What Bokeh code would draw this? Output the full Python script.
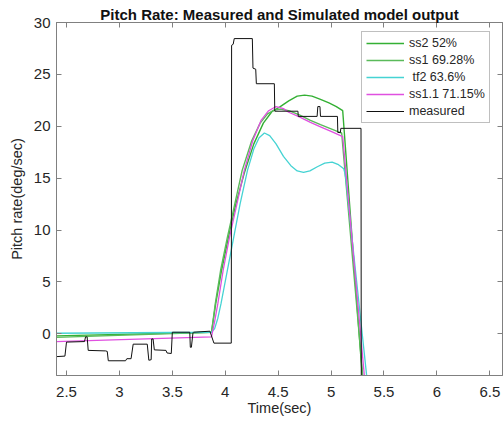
from bokeh.plotting import figure
from bokeh.models import Range1d, LinearAxis, FixedTicker, Legend, LegendItem
from bokeh.embed import file_html
from bokeh.resources import INLINE

# ---------------- data ----------------
x_ticks = [2.5, 3, 3.5, 4, 4.5, 5, 5.5, 6, 6.5]
x_tick_labels = ["2.5", "3", "3.5", "4", "4.5", "5", "5.5", "6", "6.5"]
y_ticks = [0, 5, 10, 15, 20, 25, 30]
y_tick_labels = ["0", "5", "10", "15", "20", "25", "30"]

title_text = "Pitch Rate: Measured and Simulated model output"
x_label = "Time(sec)"
y_label = "Pitch rate(deg/sec)"

labels = ["ss2 52%", "ss1 69.28%", " tf2 63.6%", "ss1.1 71.15%", "measured"]

ss2_t = [2.40, 3.87, 3.91, 3.965, 4.03, 4.10, 4.18, 4.27, 4.36, 4.44, 4.52, 4.60, 4.68,
         4.75, 4.82, 4.90, 4.98, 5.05, 5.11, 5.295, 5.32]
ss2_y = [-0.2, 0.15, 2.9, 6.1, 9.3, 12.5, 15.5, 18.3, 20.3, 21.4, 21.9, 22.45, 22.9,
         23.0, 22.9, 22.6, 22.25, 21.9, 21.5, -4.1, -7.5]

ss1_t = [2.40, 3.87, 3.906, 3.956, 4.02, 4.09, 4.16, 4.25, 4.33, 4.40, 4.46, 4.52, 4.60,
         4.70, 4.80, 4.90, 5.00, 5.07, 5.10, 5.30, 5.33]
ss1_y = [-0.35, 0.15, 2.9, 6.1, 9.3, 12.5, 15.75, 18.6, 20.3, 21.2, 21.55, 21.65, 21.5,
         21.1, 20.6, 20.15, 19.75, 19.45, 19.35, -4.1, -8.0]

tf2_t = [2.40, 3.87, 3.90, 3.93, 3.96, 4.02, 4.08, 4.14, 4.21, 4.27, 4.32, 4.37, 4.42,
         4.48, 4.55, 4.62, 4.68, 4.74, 4.80, 4.87, 4.94, 5.01, 5.07, 5.12, 5.13, 5.14,
         5.217, 5.337, 5.36]
tf2_y = [0.05, 0.15, 0.5, 1.5, 2.9, 6.1, 9.3, 12.5, 15.75, 17.8, 18.9, 19.35, 19.1,
         18.3, 17.1, 16.2, 15.7, 15.55, 15.7, 16.1, 16.45, 16.55, 16.3, 15.9, 15.5, 14.9,
         7.4, -4.1, -6.3]

ss11_t = [2.40, 3.87, 3.90, 3.93, 3.98, 4.04, 4.11, 4.18, 4.26, 4.34, 4.41, 4.48, 4.55,
          4.60, 4.70, 4.80, 4.90, 5.00, 5.11, 5.315, 5.34]
ss11_y = [-0.75, -0.3, 1.2, 2.9, 6.1, 9.3, 12.5, 15.75, 18.6, 20.6, 21.5, 21.9, 21.7,
          21.35, 20.9, 20.4, 19.95, 19.5, 19.0, -4.1, -7.5]

meas_t = [2.405, 2.485, 2.50, 2.67, 2.68, 2.695, 2.705, 2.87, 2.885, 2.895, 3.058, 3.07,
          3.11, 3.13, 3.263, 3.278, 3.30, 3.305, 3.318, 3.33, 3.44, 3.45, 3.49, 3.50,
          3.665, 3.67, 3.68, 3.695, 3.70, 3.855, 3.893, 4.057, 4.06, 4.075, 4.085,
          4.256, 4.262, 4.288, 4.294, 4.464, 4.468, 4.687, 4.69, 4.868, 4.875, 4.895,
          4.90, 5.06, 5.064, 5.088, 5.092, 5.283, 5.286]
meas_y = [-2.2, -2.15, -0.8, -0.75, -0.3, -0.3, -1.6, -1.65, -1.7, -2.6, -2.6, -2.4,
          -2.4, -1.0, -1.0, -2.55, -2.5, -0.5, -0.5, -1.55, -1.6, -1.85, -1.9, 0.15,
          0.15, -1.3, -1.3, 0.1, 0.15, 0.25, -0.9, -0.9, 27.8, 27.9, 28.45,
          28.45, 25.6, 25.5, 24.1, 24.1, 21.45, 21.45, 20.95, 20.95, 21.9, 21.9,
          20.95, 20.95, 19.4, 19.4, 19.8, 19.8, -10.0]

# ---------------- styling ----------------
FONT = "Liberation Sans"
TXT = "#262626"
AX = "#808080"

p = figure(width=503, height=423,
           x_range=Range1d(2.4054, 6.62), y_range=Range1d(-4.02, 30),
           output_backend="svg", toolbar_location=None,
           min_border_left=56, min_border_right=1, min_border_top=22, min_border_bottom=48)

p.background_fill_color = "white"
p.border_fill_color = "white"
p.outline_line_color = AX
p.outline_line_width = 1
p.xgrid.visible = False
p.ygrid.visible = False

p.title.text = title_text
p.title.align = "center"
p.title.text_font = FONT
p.title.text_font_size = "15px"
p.title.text_font_style = "bold"
p.title.text_color = "#111111"
p.title.standoff = 0

def style_axis(ax):
    ax.axis_line_color = AX
    ax.major_tick_line_color = AX
    ax.minor_tick_line_color = None
    ax.major_tick_in = 5
    ax.major_tick_out = 0
    ax.major_label_text_font = FONT
    ax.major_label_text_color = TXT
    ax.major_label_text_font_size = "15px"

xa = p.xaxis[0]
ya = p.yaxis[0]
style_axis(xa)
style_axis(ya)
xa.ticker = FixedTicker(ticks=x_ticks)
ya.ticker = FixedTicker(ticks=y_ticks)
xa.major_label_overrides = {t: l for t, l in zip(x_ticks, x_tick_labels)}
ya.major_label_overrides = {t: l for t, l in zip(y_ticks, y_tick_labels)}
xa.major_label_standoff = 11
ya.major_label_standoff = 6
xa.axis_label = x_label
ya.axis_label = y_label
for ax in (xa, ya):
    ax.axis_label_text_font = FONT
    ax.axis_label_text_font_size = "14.5px"
    ax.axis_label_text_font_style = "normal"
    ax.axis_label_text_color = TXT
xa.axis_label_standoff = 0
ya.axis_label_standoff = 6

# top and right axes: ticks only (box on, ticks inward like the reference)
top = LinearAxis(ticker=FixedTicker(ticks=x_ticks))
right = LinearAxis(ticker=FixedTicker(ticks=y_ticks))
for ax, ticks in ((top, x_ticks), (right, y_ticks)):
    style_axis(ax)
    ax.major_label_overrides = {t: "" for t in ticks}
    ax.major_label_standoff = 0
p.add_layout(top, "above")
p.add_layout(right, "right")

r_ss2 = p.line(ss2_t, ss2_y, line_color="#34b034", line_width=1.4)
r_ss1 = p.line(ss1_t, ss1_y, line_color="#5aba5a", line_width=1.4)
r_tf2 = p.line(tf2_t, tf2_y, line_color="#45d3d3", line_width=1.3)
r_ss11 = p.line(ss11_t, ss11_y, line_color="#e050e0", line_width=1.3)
r_meas = p.line(meas_t, meas_y, line_color="#111111", line_width=1)

renderers = [r_ss2, r_ss1, r_tf2, r_ss11, r_meas]
legend = Legend(items=[LegendItem(label=l, renderers=[r]) for l, r in zip(labels, renderers)],
                location=(305, 252))
legend.label_text_font = FONT
legend.label_text_font_size = "12.5px"
legend.label_text_color = TXT
legend.glyph_width = 38
legend.glyph_height = 14
legend.label_height = 14
legend.spacing = 3
legend.padding = 4
legend.margin = 0
legend.label_standoff = 5
legend.border_line_color = AX
legend.border_line_width = 1
legend.background_fill_alpha = 1
p.add_layout(legend)

open("out.html", "w").write(file_html(p, INLINE))
